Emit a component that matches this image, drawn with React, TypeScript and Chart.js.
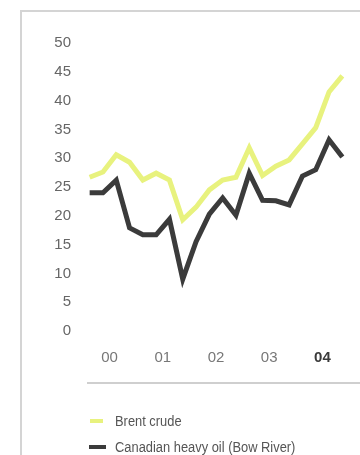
import React, { useEffect, useRef } from "react";
import { Chart, registerables } from "chart.js";

Chart.register(...registerables);

const quarters = [
  "2000Q1", "2000Q2", "2000Q3", "2000Q4",
  "2001Q1", "2001Q2", "2001Q3", "2001Q4",
  "2002Q1", "2002Q2", "2002Q3", "2002Q4",
  "2003Q1", "2003Q2", "2003Q3", "2003Q4",
  "2004Q1", "2004Q2", "2004Q3", "2004Q4",
];
const brentCrude = [
  26.7, 27.6, 30.6, 29.3, 26.2, 27.4, 26.2, 19.3,
  21.5, 24.5, 26.2, 26.7, 31.8, 27.0, 28.6, 29.7,
  32.5, 35.3, 41.5, 44.3,
];
const bowRiver = [
  24.0, 24.0, 26.2, 17.9, 16.7, 16.7, 19.4, 9.0,
  15.5, 20.3, 23.1, 20.1, 27.4, 22.7, 22.6, 21.9,
  26.9, 28.0, 33.2, 30.2,
];
const yearLabels = ["00", "01", "02", "03", "04"];
const yearTickPositions = [1.5, 5.5, 9.5, 13.5, 17.5];
const yTickMax = 50;
const yTickStep = 5;

const FONT = "'Liberation Sans', Arial, sans-serif";
const BRENT_COLOR = "#e8f27e";
const BOW_COLOR = "#3b3b3b";

export default function App() {
  const canvasRef = useRef<HTMLCanvasElement | null>(null);

  useEffect(() => {
    const canvas = canvasRef.current;
    if (!canvas) return;
    const chart = new Chart(canvas, {
      type: "line",
      data: {
        labels: quarters,
        datasets: [
          {
            label: "Canadian heavy oil (Bow River)",
            data: bowRiver.map((v, i) => ({ x: i, y: v })),
            borderColor: BOW_COLOR,
            borderWidth: 5,
            pointRadius: 0,
            tension: 0,
            borderJoinStyle: "miter",
            order: 0,
          },
          {
            label: "Brent crude",
            data: brentCrude.map((v, i) => ({ x: i, y: v })),
            borderColor: BRENT_COLOR,
            borderWidth: 5,
            pointRadius: 0,
            tension: 0,
            borderJoinStyle: "miter",
            order: 1,
          },
        ],
      },
      options: {
        responsive: false,
        animation: false,
        layout: { padding: { top: 43, right: 11, left: 0, bottom: 0 } },
        plugins: { legend: { display: false }, tooltip: { enabled: false } },
        scales: {
          x: {
            type: "linear",
            min: -0.5,
            max: quarters.length - 0.5,
            grid: { display: false, drawTicks: false },
            border: { display: false },
            afterBuildTicks: (axis: any) => {
              axis.ticks = yearTickPositions.map((v) => ({ value: v }));
            },
            afterFit: (axis: any) => {
              axis.height = 124;
            },
            ticks: {
              autoSkip: false,
              maxRotation: 0,
              padding: 18,
              callback: (_v: any, i: number) => yearLabels[i],
              color: (ctx: any) => (ctx.index === 4 ? "#3a3a3a" : "#777777"),
              font: (ctx: any) => ({
                family: FONT,
                size: 15,
                weight: ctx.index === 4 ? "bold" : "normal",
              }),
            },
          },
          y: {
            min: 0,
            max: yTickMax,
            grid: { display: false, drawTicks: false },
            border: { display: false },
            afterFit: (axis: any) => {
              axis.width = 83;
            },
            ticks: {
              stepSize: yTickStep,
              padding: 12,
              color: "#666666",
              font: { family: FONT, size: 15 },
            },
          },
        },
      },
    });
    return () => chart.destroy();
  }, []);

  const legendText: React.CSSProperties = {
    position: "absolute",
    left: 115,
    fontSize: 14,
    lineHeight: "20px",
    color: "#555555",
    whiteSpace: "nowrap",
    transform: "scaleX(0.92)",
    transformOrigin: "left center",
  };

  return (
    <div
      style={{
        position: "absolute",
        left: 0,
        top: 0,
        width: 360,
        height: 455,
        background: "#ffffff",
        overflow: "hidden",
        fontFamily: FONT,
      }}
    >
      <div
        style={{
          position: "absolute",
          left: 20,
          top: 10,
          width: 360,
          height: 460,
          borderTop: "2px solid #d4d4d4",
          borderLeft: "2px solid #d4d4d4",
        }}
      />
      <canvas
        ref={canvasRef}
        width={360}
        height={455}
        style={{ position: "absolute", left: 0, top: 0, width: 360, height: 455 }}
      />
      <div
        style={{
          position: "absolute",
          left: 87,
          top: 382,
          width: 273,
          height: 0,
          borderTop: "2px solid #cfcfcf",
        }}
      />
      <div style={{ position: "absolute", left: 90, top: 419, width: 13, height: 4, background: BRENT_COLOR }} />
      <div style={{ ...legendText, top: 411 }}>Brent crude</div>
      <div style={{ position: "absolute", left: 89, top: 445, width: 17, height: 4, background: BOW_COLOR }} />
      <div style={{ ...legendText, top: 437 }}>Canadian heavy oil (Bow River)</div>
    </div>
  );
}
